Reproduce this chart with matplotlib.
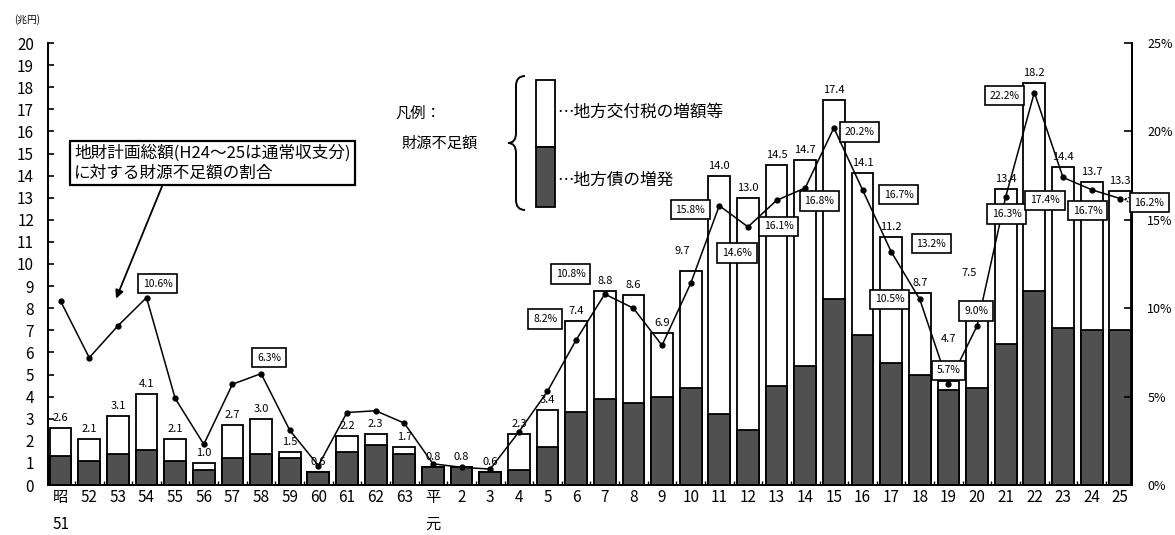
import matplotlib
matplotlib.use("Agg")
import matplotlib.pyplot as plt
from matplotlib.patches import Rectangle, PathPatch
from matplotlib.path import Path
import numpy as np

plt.rcParams['font.family'] = ['Noto Sans CJK JP', 'DejaVu Sans']

# ---------------- data ----------------
year_labels = ['昭\n51', '52', '53', '54', '55', '56', '57', '58', '59', '60', '61', '62', '63',
               '平\n元', '2', '3', '4', '5', '6', '7', '8', '9', '10', '11', '12', '13', '14',
               '15', '16', '17', '18', '19', '20', '21', '22', '23', '24', '25']
shortfall_total = [2.6, 2.1, 3.1, 4.1, 2.1, 1.0, 2.7, 3.0, 1.5, 0.6, 2.2, 2.3, 1.7,
                   0.8, 0.8, 0.6, 2.3, 3.4, 7.4, 8.8, 8.6, 6.9, 9.7, 14.0, 13.0, 14.5, 14.7,
                   17.4, 14.1, 11.2, 8.7, 4.7, 7.5, 13.4, 18.2, 14.4, 13.7, 13.3]
bond_increase = [1.3, 1.1, 1.4, 1.6, 1.1, 0.7, 1.2, 1.4, 1.2, 0.6, 1.5, 1.8, 1.4,
                 0.8, 0.8, 0.6, 0.7, 1.7, 3.3, 3.9, 3.7, 4.0, 4.4, 3.2, 2.5, 4.5, 5.4,
                 8.4, 6.8, 5.5, 5.0, 4.3, 4.4, 6.4, 8.8, 7.1, 7.0, 7.0]
ratio_pct = [10.4, 7.2, 9.0, 10.6, 4.9, 2.3, 5.7, 6.3, 3.1, 1.1, 4.1, 4.2, 3.5,
             1.2, 1.0, 0.9, 3.0, 5.3, 8.2, 10.8, 10.0, 7.9, 11.4, 15.8, 14.6, 16.1, 16.8,
             20.2, 16.7, 13.2, 10.5, 5.7, 9.0, 16.3, 22.2, 17.4, 16.7, 16.2]
boxed_idx = [3, 7, 18, 19, 23, 24, 25, 26, 27, 28, 29, 30, 31, 32, 33, 34, 35, 36, 37]
left_ticks = list(range(0, 21))
right_ticks = [0, 5, 10, 15, 20, 25]

# layout of boxed labels (pixel offsets: dx right, dy down)
box_offsets = {3: (11, -14), 7: (8, -16), 18: (-31, -21), 19: (-34, -20), 23: (-29, 4),
               24: (-11, 26), 25: (2, 26), 26: (14, 13), 27: (26, 4), 28: (36, 5),
               29: (40, -8), 30: (-30, 0), 31: (0, -14), 32: (-1, -15), 33: (1, 17),
               34: (-30, 3), 35: (-18, 23), 36: (-4, 21), 37: (29, 4)}
# layout of bar value labels that sit away from the bar top (pixel offsets)
value_offsets = {22: (-8, 10), 31: (0, 32), 32: (-8, 36)}

W, H = 1175, 535
fig = plt.figure(figsize=(W / 100, H / 100), dpi=100)
fig.patch.set_facecolor('white')
ax = fig.add_axes([48 / W, 50 / H, (1132 - 48) / W, (485 - 43) / H])
ax2 = ax.twinx()

x = np.arange(len(year_labels))
tot = np.array(shortfall_total)
bond = np.array(bond_increase)
dark = '#505050'
ax.bar(x, tot, width=0.76, color='white', edgecolor='black', linewidth=1.3, zorder=2)
ax.bar(x, bond, width=0.76, color=dark, edgecolor='black', linewidth=1.3, zorder=3)

for xi, t in zip(x, tot):
    dx, dy = value_offsets.get(int(xi), (0, 0))
    ax.annotate(f'{t:.1f}', (xi, t), xytext=(dx, 5 + dy), textcoords='offset pixels',
                ha='center', va='bottom', fontsize=8, zorder=6)

ax.set_xlim(-0.44, 37.41)
ax.set_ylim(0, 20)
ax2.set_ylim(0, 25)

ax.set_yticks(left_ticks)
ax.set_yticklabels([str(v) for v in left_ticks], fontsize=11)
ax.tick_params(axis='y', direction='in', length=4, width=1.2, pad=10)
ax.set_xticks(x)
ax.set_xticklabels(year_labels, fontsize=11)
for lab in ax.get_xticklabels():
    lab.set_linespacing(1.75)
ax.tick_params(axis='x', length=0, pad=3)
ax.set_xticks(x[:-1] + 0.5, minor=True)
ax.tick_params(axis='x', which='minor', direction='in', length=3, width=1)

ax2.set_yticks(right_ticks)
ax2.set_yticklabels([f'{v}%' for v in right_ticks], fontsize=9)
ax2.tick_params(axis='y', direction='in', length=6, width=1.2, pad=11)

for a in (ax, ax2):
    a.spines['top'].set_visible(False)
    for s in ('left', 'right', 'bottom'):
        a.spines[s].set_linewidth(1.4)

ax2.plot(x, ratio_pct, color='black', lw=1.1, marker='o', markersize=3.5, zorder=4)

for i in boxed_idx:
    dx, dy = box_offsets[i]
    kw = {}
    if i == 37:
        kw['arrowprops'] = dict(arrowstyle='->', color='black', lw=0.8, ls=':')
    ax2.annotate(f'{ratio_pct[i]:.1f}%', (x[i], ratio_pct[i]), xytext=(dx, -dy),
                 textcoords='offset pixels', ha='center', va='center', fontsize=7.5,
                 bbox=dict(boxstyle='square,pad=0.45', fc='white', ec='black', lw=1.2),
                 zorder=7, **kw)

# unit label
fig.text(14 / W, 1 - 20 / H, '(兆円)', fontsize=7, ha='left', va='center')

# annotation box with arrow
fig.text(74 / W, 1 - 163 / H, '地財計画総額(H24〜25は通常収支分)\nに対する財源不足額の割合',
         fontsize=12, ha='left', va='center', linespacing=1.15,
         bbox=dict(boxstyle='square,pad=0.25', fc='white', ec='black', lw=1.6), zorder=8)
ax2.annotate('', xy=(1.9, 10.4), xycoords='data', xytext=(163 / W, 1 - 184 / H),
             textcoords='figure fraction',
             arrowprops=dict(arrowstyle='-|>', color='black', lw=1.3, mutation_scale=12))

# legend
def fx(px):
    return px / W

def fy(py):
    return 1 - py / H

fig.text(fx(395), fy(113), '凡例：', fontsize=11, ha='left', va='center')
fig.text(fx(402), fy(143), '財源不足額', fontsize=11, ha='left', va='center')
fig.add_artist(Rectangle((fx(536), fy(147)), fx(19), (147 - 80) / H, transform=fig.transFigure,
                         fc='white', ec='black', lw=1.3))
fig.add_artist(Rectangle((fx(536), fy(207)), fx(19), (207 - 147) / H, transform=fig.transFigure,
                         fc=dark, ec='black', lw=1.3))
fig.text(fx(557), fy(112), '…地方交付税の増額等', fontsize=12, ha='left', va='center')
fig.text(fx(557), fy(180), '…地方債の増発', fontsize=12, ha='left', va='center')

verts = [(525, 76), (516, 76), (516, 86), (516, 133), (516, 143), (508, 143),
         (516, 143), (516, 153), (516, 200), (516, 210), (525, 210)]
codes = [Path.MOVETO, Path.CURVE3, Path.CURVE3, Path.LINETO, Path.CURVE3, Path.CURVE3,
         Path.CURVE3, Path.CURVE3, Path.LINETO, Path.CURVE3, Path.CURVE3]
brace = Path([(fx(a), fy(b)) for a, b in verts], codes)
fig.add_artist(PathPatch(brace, transform=fig.transFigure, fc='none', ec='black', lw=1.4))

fig.savefig('out.png', dpi=100, facecolor='white')
